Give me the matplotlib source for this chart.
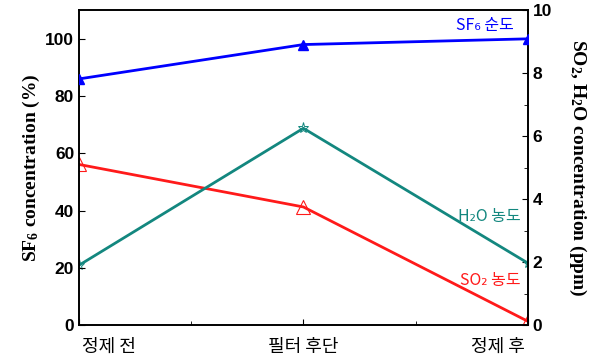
import matplotlib
matplotlib.use("Agg")
import matplotlib.pyplot as plt
from matplotlib.ticker import MultipleLocator

plt.rcParams["mathtext.fontset"] = "custom"
plt.rcParams["mathtext.rm"] = "Liberation Serif:bold"
plt.rcParams["mathtext.it"] = "Liberation Serif:bold"
plt.rcParams["mathtext.bf"] = "Liberation Serif:bold"

categories = ["정제 전", "필터 후단", "정제 후"]
sf6_purity = [86, 98, 100]          # %
so2_ppm = [5.1, 3.75, 0.12]         # ppm
h2o_ppm = [1.9, 6.25, 1.97]         # ppm

blue = "#0000ff"
red = "#ff1a1a"
teal = "#13877f"
kfont = ["Noto Sans CJK KR", "DejaVu Sans"]

fig = plt.figure(figsize=(5.99, 3.61), dpi=100)
ax = fig.add_axes([0.132, 0.0997, 0.749, 0.872])
ax2 = ax.twinx()

x = list(range(len(categories)))
ax.plot(x, sf6_purity, color=blue, lw=2, marker="^", ms=7, mfc=blue, mec=blue, zorder=3)
ax2.plot(x, so2_ppm, color=red, lw=2, marker="^", ms=10, mfc="none", mec=red, mew=0.8)
ax2.plot(x, h2o_ppm, color=teal, lw=2, marker="*", ms=8, mfc="none", mec=teal, mew=0.7)

ax.set_xlim(0, 2)
ax.set_ylim(0, 110)
ax2.set_ylim(0, 10)
ax.set_zorder(ax2.get_zorder() + 1)
ax.patch.set_visible(False)

ax.set_xticks(x)
ax.set_xticklabels(categories, family=kfont, fontsize=13)
xl = ax.get_xticklabels()
xl[0].set_ha("left")
xl[-1].set_ha("right")
ax.xaxis.set_minor_locator(MultipleLocator(0.5))
ax.set_yticks([0, 20, 40, 60, 80, 100])
ax2.set_yticks([0, 2, 4, 6, 8, 10])
ax2.yaxis.set_minor_locator(MultipleLocator(1))

for a in (ax, ax2):
    a.tick_params(which="both", direction="in")
    a.tick_params(axis="y", labelsize=12.5)
    a.tick_params(which="major", length=4)
    a.tick_params(which="minor", length=3)
    for lab in a.get_yticklabels():
        lab.set_fontweight("bold")
        lab.set_family("Liberation Sans")
    for s in a.spines.values():
        s.set_linewidth(1.2)
ax.tick_params(axis="x", pad=9, labelsize=13)
ax.tick_params(axis="y", which="minor", left=False)
for lab in ax.get_xticklabels():
    lab.set_x(lab.get_position()[0])
xl[0].set_transform(xl[0].get_transform() + matplotlib.transforms.ScaledTranslation(3/100, 0, fig.dpi_scale_trans))
xl[-1].set_transform(xl[-1].get_transform() + matplotlib.transforms.ScaledTranslation(-3/100, 0, fig.dpi_scale_trans))

ax.set_ylabel("SF$_6$ concentration (%)", fontsize=14, fontweight="bold",
              family="Liberation Serif", labelpad=2)
ax2.set_ylabel("SO$_2$, H$_2$O concentration (ppm)", fontsize=14, fontweight="bold",
               family="Liberation Serif", rotation=270, labelpad=26)

ax.text(0.97, 0.95, "SF₆ 순도", transform=ax.transAxes, color=blue, fontsize=11.5,
        ha="right", va="center", family=kfont)
ax.text(0.985, 0.345, "H₂O 농도", transform=ax.transAxes, color=teal, fontsize=11.5,
        ha="right", va="center", family=kfont)
ax.text(0.985, 0.14, "SO₂ 농도", transform=ax.transAxes, color=red, fontsize=11.5,
        ha="right", va="center", family=kfont)

fig.savefig("out.png", dpi=100)
